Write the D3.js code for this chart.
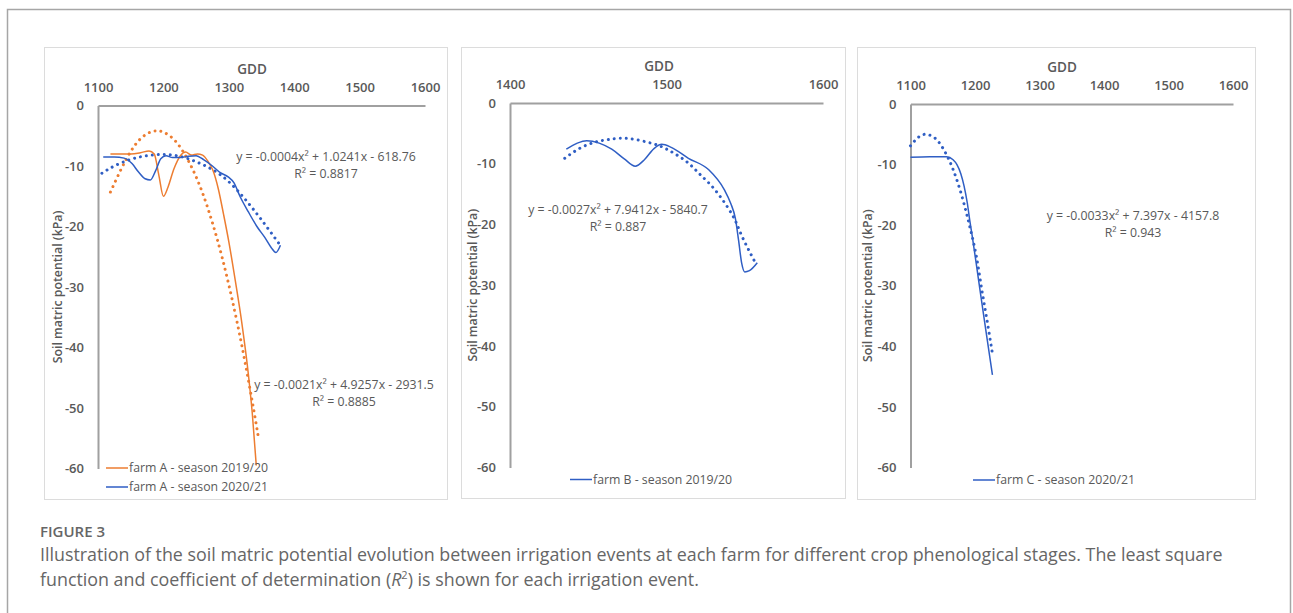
<!DOCTYPE html>
<html>
<head>
<meta charset="utf-8">
<script src="https://cdn.jsdelivr.net/npm/d3@7"></script>
<style>
  html, body { margin: 0; padding: 0; background: #fff; }
  svg { display: block; }
  text { font-family: "Open Sans", "Liberation Sans", sans-serif; }
</style>
</head>
<body>
<svg id="fig" width="1293" height="613"></svg>
<script>
// ---- Tick values ----
const gddTicksAC = [1100, 1200, 1300, 1400, 1500, 1600];
const gddTicksB = [1400, 1500, 1600];
const smpTicks = [0, -10, -20, -30, -40, -50, -60];

// ---- Farm A, season 2019/20 (measured) ----
const gddA19 = [1119, 1135, 1150, 1165, 1178, 1186, 1193, 1200, 1207, 1216, 1226, 1234, 1243, 1252, 1260, 1268, 1276, 1284, 1292, 1300, 1310, 1320, 1330, 1336, 1342];
const smpA19 = [-8.0, -8.0, -8.0, -7.8, -7.5, -8.0, -11.5, -15.0, -13.5, -10.5, -8.3, -7.7, -8.2, -8.0, -8.2, -9.2, -10.8, -13.8, -18.0, -22.5, -29.0, -36.0, -44.5, -51.0, -59.5];
// Farm A, season 2019/20 (quadratic trend)
const gddA19fit = [1119, 1135, 1150, 1165, 1180, 1190, 1200, 1215, 1230, 1245, 1260, 1275, 1290, 1305, 1320, 1335, 1345];
const smpA19fit = [-14.3, -10.6, -7.6, -5.5, -4.4, -4.2, -4.4, -5.5, -7.6, -10.6, -14.5, -19.4, -25.2, -32.0, -39.7, -48.4, -54.7];

// ---- Farm A, season 2020/21 (measured) ----
const gddA20 = [1108, 1125, 1140, 1152, 1162, 1172, 1180, 1188, 1196, 1204, 1214, 1226, 1238, 1250, 1262, 1275, 1287, 1299, 1308, 1317, 1330, 1343, 1355, 1365, 1372, 1379];
const smpA20 = [-8.5, -8.5, -8.7, -9.6, -11.0, -12.1, -12.3, -10.8, -8.8, -8.3, -8.6, -8.6, -8.4, -8.3, -9.0, -10.0, -11.1, -11.8, -12.8, -15.0, -17.6, -20.0, -21.8, -23.5, -24.3, -23.1];
// Farm A, season 2020/21 (quadratic trend)
const gddA20fit = [1106, 1125, 1150, 1175, 1200, 1225, 1250, 1275, 1300, 1325, 1350, 1378];
const smpA20fit = [-11.2, -10.0, -8.9, -8.3, -8.1, -8.4, -9.3, -10.6, -12.6, -15.5, -18.9, -23.0];

// ---- Farm B, season 2019/20 ----
const gddB = [1436, 1443, 1449, 1457, 1465, 1473, 1480, 1486, 1492, 1497, 1503, 1514, 1527, 1537, 1541, 1544, 1546, 1548, 1550, 1553, 1558];
const smpB = [-7.6, -6.6, -6.2, -6.6, -7.6, -9.2, -10.4, -9.3, -7.5, -6.8, -7.3, -9.1, -11.0, -14.3, -16.5, -19.0, -22.5, -26.3, -27.8, -27.6, -26.3];
const gddBfit = [1435, 1445, 1455, 1463, 1471, 1480, 1490, 1497, 1505, 1514, 1522, 1531, 1542, 1548, 1557];
const smpBfit = [-9.1, -7.4, -6.4, -6.0, -5.8, -6.0, -6.6, -7.2, -8.3, -9.9, -11.9, -14.3, -18.4, -21.8, -26.4];

// ---- Farm C, season 2020/21 ----
const gddC = [1100, 1130, 1156, 1166, 1172, 1178, 1183, 1188, 1192, 1196, 1206, 1217, 1227];
const smpC = [-8.8, -8.7, -8.7, -9.2, -10.0, -11.5, -13.5, -16.3, -19.3, -22.0, -29.4, -37.5, -44.7];
const gddCfit = [1100, 1111, 1122, 1133, 1144, 1156, 1166, 1176, 1185, 1193, 1202, 1210, 1218, 1227];
const smpCfit = [-6.9, -5.6, -5.0, -5.3, -6.3, -8.4, -10.8, -13.9, -17.3, -20.7, -25.1, -30.3, -35.3, -41.2];

// ---- Series labels and trend equations ----
const legendA = ["farm A - season 2019/20", "farm A - season 2020/21"];
const legendB = ["farm B - season 2019/20"];
const legendC = ["farm C - season 2020/21"];
const eqA20 = ["y = -0.0004x² + 1.0241x - 618.76", "R² = 0.8817"];
const eqA19 = ["y = -0.0021x² + 4.9257x - 2931.5", "R² = 0.8885"];
const eqB = ["y = -0.0027x² + 7.9412x - 5840.7", "R² = 0.887"];
const eqC = ["y = -0.0033x² + 7.397x - 4157.8", "R² = 0.943"];

const ORANGE = "#ED7D31";
const BLUE = "#2F5EC4";
const TXT = "#595959";
const AXIS = "#a0a0a0";

const svg = d3.select("#fig");

// outer figure frame
svg.append("path")
  .attr("d", "M7.5,613 V9.5 H1290.5 V613")
  .attr("fill", "none").attr("stroke", "#a6a6a6").attr("stroke-width", 1.5);

const zip = (xs, ys) => xs.map((x, i) => [x, ys[i]]);
const plain = d => String(d);

function drawPanel(cfg) {
  const g = svg.append("g");
  // panel box
  g.append("rect")
    .attr("x", cfg.box[0] + 0.5).attr("y", cfg.box[1] + 0.5)
    .attr("width", cfg.box[2] - cfg.box[0]).attr("height", cfg.box[3] - cfg.box[1])
    .attr("fill", "#fff").attr("stroke", "#dcdcdc").attr("stroke-width", 1);

  const x = d3.scaleLinear().domain([cfg.ticks[0], cfg.ticks[cfg.ticks.length - 1]]).range(cfg.xr);
  const y = d3.scaleLinear().domain([0, -60]).range(cfg.yr);

  // top GDD axis
  const xa = g.append("g").attr("transform", `translate(0,${y(0)})`)
    .call(d3.axisTop(x).tickValues(cfg.ticks).tickSize(0).tickPadding(14).tickFormat(plain));
  xa.select(".domain").attr("stroke", AXIS).attr("stroke-width", 2);
  xa.selectAll("text").attr("fill", TXT).style("font-size", "13px").style("font-weight", 600)
    .style("font-family", "'Open Sans', sans-serif");

  // left SMP axis
  const ya = g.append("g").attr("transform", `translate(${x(cfg.ticks[0])},0)`)
    .call(d3.axisLeft(y).tickValues(smpTicks).tickSize(0).tickPadding(14).tickFormat(plain));
  ya.select(".domain").attr("stroke", AXIS).attr("stroke-width", 2);
  ya.selectAll("text").attr("fill", TXT).style("font-size", "13px").style("font-weight", 600)
    .style("font-family", "'Open Sans', sans-serif");

  // axis titles
  g.append("text").attr("x", cfg.gddX).attr("y", y(0) - 32)
    .attr("text-anchor", "middle").attr("fill", TXT)
    .style("font-size", "13.5px").style("font-weight", 600).text("GDD");
  g.append("text")
    .attr("transform", `translate(${cfg.titleX},${(cfg.yr[0] + cfg.yr[1]) / 2}) rotate(-90)`)
    .attr("text-anchor", "middle").attr("dy", "0.35em").attr("fill", TXT)
    .style("font-size", "12.3px").style("font-weight", 600).text("Soil matric potential (kPa)");

  const smooth = d3.line().x(d => x(d[0])).y(d => y(d[1])).curve(d3.curveMonotoneX);
  const trend = d3.line().x(d => x(d[0])).y(d => y(d[1])).curve(d3.curveNatural);

  cfg.series.forEach(s => {
    g.append("path").datum(zip(s.fitX, s.fitY))
      .attr("d", trend).attr("fill", "none").attr("stroke", s.color)
      .attr("stroke-width", 3).attr("stroke-linecap", "round").attr("stroke-dasharray", "0.01 6");
  });
  cfg.series.forEach(s => {
    g.append("path").datum(zip(s.xs, s.ys))
      .attr("d", smooth).attr("fill", "none").attr("stroke", s.color).attr("stroke-width", 1.5);
  });

  // trend equations
  cfg.eqs.forEach(e => {
    e.lines.forEach((t, i) => {
      g.append("text").attr("x", e.at[0]).attr("y", e.at[1] + i * 17)
        .attr("text-anchor", "middle").attr("dy", "0.35em").attr("fill", TXT)
        .style("font-size", "12.3px").text(t);
    });
  });

  // legend
  cfg.series.forEach((s, i) => {
    const ly = cfg.legend[1] + i * 19;
    g.append("line").attr("x1", cfg.legend[0]).attr("x2", cfg.legend[0] + 22)
      .attr("y1", ly).attr("y2", ly).attr("stroke", s.color).attr("stroke-width", 1.5);
    g.append("text").attr("x", cfg.legend[0] + 23).attr("y", ly).attr("dy", "0.35em")
      .attr("fill", TXT).style("font-size", "12.3px").text(s.name);
  });
}

drawPanel({
  box: [44, 47, 447, 499], ticks: gddTicksAC, xr: [98, 425], yr: [105.5, 468.5],
  gddX: 252, titleX: 58,
  series: [
    { name: legendA[0], color: ORANGE, xs: gddA19, ys: smpA19, fitX: gddA19fit, fitY: smpA19fit },
    { name: legendA[1], color: BLUE, xs: gddA20, ys: smpA20, fitX: gddA20fit, fitY: smpA20fit }
  ],
  eqs: [{ lines: eqA20, at: [326, 157] }, { lines: eqA19, at: [344, 385] }],
  legend: [106, 468]
});

drawPanel({
  box: [461, 47, 845, 498], ticks: gddTicksB, xr: [510, 823], yr: [103, 467.5],
  gddX: 659, titleX: 473,
  series: [
    { name: legendB[0], color: BLUE, xs: gddB, ys: smpB, fitX: gddBfit, fitY: smpBfit }
  ],
  eqs: [{ lines: eqB, at: [618, 210] }],
  legend: [570, 479.5]
});

drawPanel({
  box: [857, 47, 1255, 499], ticks: gddTicksAC, xr: [910.5, 1233], yr: [104, 467.5],
  gddX: 1062, titleX: 868,
  series: [
    { name: legendC[0], color: BLUE, xs: gddC, ys: smpC, fitX: gddCfit, fitY: smpCfit }
  ],
  eqs: [{ lines: eqC, at: [1133, 216] }],
  legend: [973, 480]
});

// caption
const cap = svg.append("g").attr("fill", "#666");
cap.append("text").attr("x", 40).attr("y", 537)
  .style("font-size", "15px").style("font-weight", 600).attr("fill", "#666").text("FIGURE 3");
cap.append("text").attr("x", 40).attr("y", 561).style("font-size", "17.85px")
  .text("Illustration of the soil matric potential evolution between irrigation events at each farm for different crop phenological stages. The least square");
const l2 = cap.append("text").attr("x", 40).attr("y", 586).style("font-size", "17.85px");
l2.append("tspan").text("function and coefficient of determination (");
l2.append("tspan").style("font-style", "italic").text("R");
l2.append("tspan").attr("dy", -7).style("font-size", "11px").text("2");
l2.append("tspan").attr("dy", 7).text(") is shown for each irrigation event.");
</script>
</body>
</html>
